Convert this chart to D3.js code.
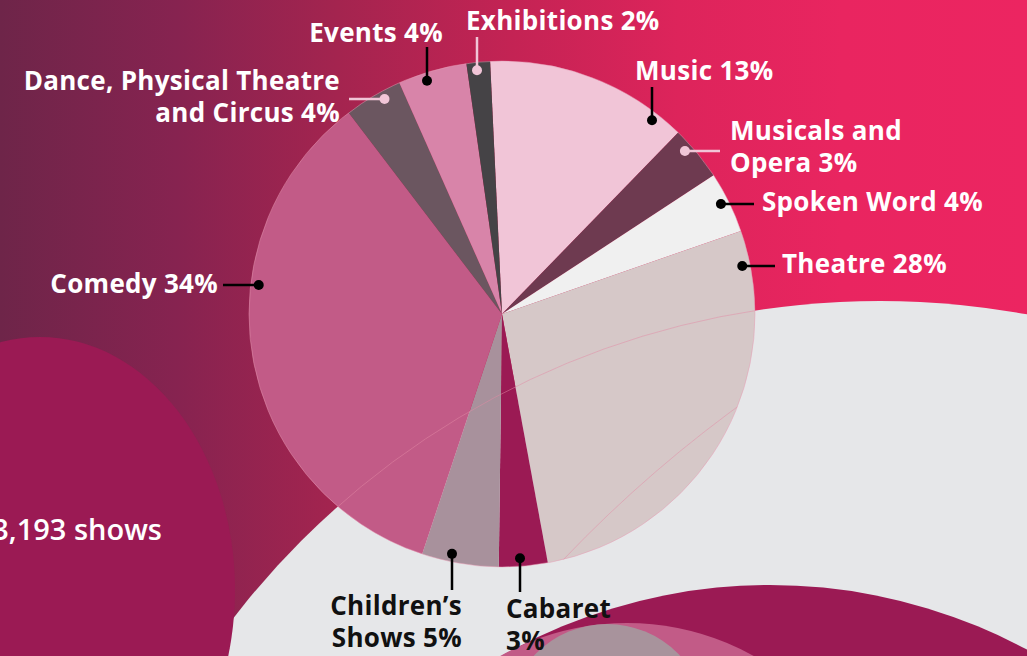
<!DOCTYPE html>
<html>
<head>
<meta charset="utf-8">
<script src="https://cdn.jsdelivr.net/npm/d3@7"></script>
<style>
  body { margin: 0; background: #e6e7e9; }
  svg { display: block; }
  .lbl { font-family: "Open Sans", sans-serif; font-weight: 700; font-size: 26px; letter-spacing: 0.3px; }
</style>
</head>
<body>
<div id="chart"></div>
<script>
// slices, clockwise from the top
var categories = ["Music", "Musicals and Opera", "Spoken Word", "Theatre", "Cabaret",
    "Children’s Shows", "Comedy", "Dance, Physical Theatre and Circus", "Events", "Exhibitions"];
// share of the circle
var shares = [13.0, 3.5, 3.9, 27.4, 3.1, 4.9, 34.5, 3.7, 4.4, 1.5];
// percentages printed on the labels
var printedPct = [13, 3, 4, 28, 3, 5, 34, 4, 4, 2];
// label text, one entry per line
var labelText = [
    ["Music 13%"],
    ["Musicals and", "Opera 3%"],
    ["Spoken Word 4%"],
    ["Theatre 28%"],
    ["Cabaret", "3%"],
    ["Children’s", "Shows 5%"],
    ["Comedy 34%"],
    ["Dance, Physical Theatre", "and Circus 4%"],
    ["Events 4%"],
    ["Exhibitions 2%"]
];
var sliceColors = ["#f1c5d7", "#6e3a50", "#f0f0f0", "#d6c8c8", "#9b1a54",
    "#a8919c", "#c25b87", "#6b5660", "#d884a9", "#454346"];
var totalShows = "3,193 shows";

// where each label sits (layout, not data)
// lead "v" = vertical leader at x=at, "h" = horizontal leader at y=at
var labelLayout = [
    {anchor: "start", x: 635, y: 80, lead: "v", at: 652, end: 87, side: -1, dot: "#000", ink: "#fff"},
    {anchor: "start", x: 730, y: 140, lead: "h", at: 151, end: 720, side: 1, dot: "#f1c5d7", ink: "#fff"},
    {anchor: "start", x: 762, y: 211, lead: "h", at: 204, end: 754, side: 1, dot: "#000", ink: "#fff"},
    {anchor: "start", x: 782, y: 273, lead: "h", at: 266, end: 775, side: 1, dot: "#000", ink: "#fff"},
    {anchor: "start", x: 506, y: 618, lead: "v", at: 520, end: 592, side: 1, dot: "#000", ink: "#111"},
    {anchor: "end", x: 462, y: 615, lead: "v", at: 452, end: 590, side: 1, dot: "#000", ink: "#111"},
    {anchor: "end", x: 218, y: 293, lead: "h", at: 285, end: 223, side: -1, dot: "#000", ink: "#fff"},
    {anchor: "end", x: 340, y: 90, lead: "h", at: 99, end: 349, side: -1, dot: "#f1c5d7", ink: "#fff"},
    {anchor: "end", x: 443, y: 42, lead: "v", at: 427, end: 47, side: -1, dot: "#000", ink: "#fff"},
    {anchor: "start", x: 466, y: 30, lead: "v", at: 477, end: 37, side: -1, dot: "#f1c5d7", ink: "#fff"}
];

var width = 1027, height = 656;
var cx = 502, cy = 314, radius = 253;
var lineGap = 31.7;

var svg = d3.select("#chart").append("svg")
    .attr("width", width)
    .attr("height", height);

var defs = svg.append("defs");

var grad = defs.append("linearGradient")
    .attr("id", "bg")
    .attr("x1", 0).attr("x2", 1).attr("y1", 0).attr("y2", 0);
[[0, "#6e2549"], [0.17, "#862350"], [0.33, "#a4244f"], [0.5, "#c42354"],
 [0.66, "#dd245b"], [0.82, "#e92560"], [1, "#ec2561"]].forEach(function(s){
    grad.append("stop").attr("offset", s[0]).attr("stop-color", s[1]);
});

defs.append("clipPath").attr("id", "pieClip")
    .append("circle")
    .attr("cx", cx).attr("cy", cy).attr("r", radius);

//background
svg.append("rect")
    .attr("width", width)
    .attr("height", height)
    .attr("fill", "url(#bg)");

// big grey disc behind the pie
svg.append("circle")
    .attr("cx", 880).attr("cy", 1119).attr("r", 818)
    .attr("fill", "#e6e7e9");

// shapes peeking in at the bottom right
svg.append("circle")
    .attr("cx", 770).attr("cy", 1128).attr("r", 543)
    .attr("fill", "#9b1a54");
svg.append("circle")
    .attr("cx", 627).attr("cy", 883).attr("r", 260)
    .attr("fill", "#c25b87");
svg.append("circle")
    .attr("cx", 607).attr("cy", 724).attr("r", 100)
    .attr("fill", "#a8939c");

// total on the left
svg.append("ellipse")
    .attr("cx", 40).attr("cy", 590).attr("rx", 195).attr("ry", 253)
    .attr("fill", "#9b1a54");

svg.append("text")
    .attr("x", 162)
    .attr("y", 540)
    .attr("text-anchor", "end")
    .style("font-family", "'Open Sans', sans-serif")
    .style("font-weight", 600)
    .style("font-size", "29px")
    .attr("fill", "#fff")
    .text(totalShows);

//pie
var rows = categories.map(function(d, i){
    return {name: d, value: shares[i], pct: printedPct[i], color: sliceColors[i], lines: labelText[i], layout: labelLayout[i]};
});

var pie = d3.pie()
    .sort(null)
    .value(function(d){ return d.value; })
    .startAngle(-0.047)
    .endAngle(-0.047 + 2 * Math.PI);

var arc = d3.arc()
    .innerRadius(0)
    .outerRadius(radius);

var pieGroup = svg.append("g")
    .attr("transform", "translate(" + cx + "," + cy + ")");

pieGroup.selectAll("path")
    .data(pie(rows))
    .enter().append("path")
    .attr("d", arc)
    .attr("fill", function(d){ return d.data.color; })
    .append("title")
    .text(function(d){ return d.data.name + " : " + d.data.pct + "%"; });

pieGroup.append("circle")
    .attr("r", radius)
    .attr("fill", "none")
    .attr("stroke", "#e79ab4")
    .attr("stroke-opacity", 0.6)
    .attr("stroke-width", 0.8);

// faint edges of the shapes behind, showing through the pie
var ghost = svg.append("g").attr("clip-path", "url(#pieClip)");
ghost.append("circle")
    .attr("cx", 880).attr("cy", 1119).attr("r", 818)
    .attr("fill", "none")
    .attr("stroke", "#e38aa6")
    .attr("stroke-opacity", 0.55)
    .attr("stroke-width", 0.9);
ghost.append("circle")
    .attr("cx", 1500).attr("cy", 1451).attr("r", 1293)
    .attr("fill", "none")
    .attr("stroke", "#e38aa6")
    .attr("stroke-opacity", 0.55)
    .attr("stroke-width", 0.9);

//labels and leaders
var dotRadius = radius - 8;

function dotPosition(lay){
    if (lay.lead == "v"){
        var dx = lay.at - cx;
        return [lay.at, cy + lay.side * Math.sqrt(dotRadius * dotRadius - dx * dx)];
    }
    else{
        var dy = lay.at - cy;
        return [cx + lay.side * Math.sqrt(dotRadius * dotRadius - dy * dy), lay.at];
    }
}

var labels = svg.selectAll(".label")
    .data(rows)
    .enter().append("g")
    .attr("class", "label");

labels.append("line")
    .attr("x1", function(d){ return dotPosition(d.layout)[0]; })
    .attr("y1", function(d){ return dotPosition(d.layout)[1]; })
    .attr("x2", function(d){ return d.layout.lead == "v" ? d.layout.at : d.layout.end; })
    .attr("y2", function(d){ return d.layout.lead == "v" ? d.layout.end : d.layout.at; })
    .attr("stroke", function(d){ return d.layout.dot; })
    .attr("stroke-width", 2.5);

labels.append("circle")
    .attr("cx", function(d){ return dotPosition(d.layout)[0]; })
    .attr("cy", function(d){ return dotPosition(d.layout)[1]; })
    .attr("r", 5)
    .attr("fill", function(d){ return d.layout.dot; });

labels.append("text")
    .attr("class", "lbl")
    .attr("text-anchor", function(d){ return d.layout.anchor; })
    .attr("fill", function(d){ return d.layout.ink; })
    .each(function(d){
        var t = d3.select(this);
        d.lines.forEach(function(line, i){
            t.append("tspan")
                .attr("x", d.layout.x)
                .attr("y", d.layout.y + i * lineGap)
                .text(line);
        });
    });
</script>
</body>
</html>
